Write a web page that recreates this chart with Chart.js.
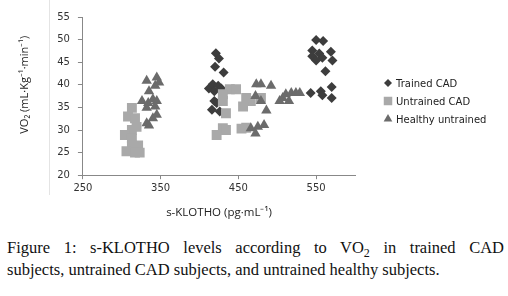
<!DOCTYPE html>
<html>
<head>
<meta charset="utf-8">
<script src="https://cdn.jsdelivr.net/npm/chart.js@4/dist/chart.umd.min.js"></script>
<style>
  body { margin: 0; background: #fff; width: 508px; height: 296px; overflow: hidden; position: relative; }
  #wrap { position: absolute; left: 0; top: 0; width: 508px; height: 228px; }
  #frame { position: absolute; left: 49px; top: 0; width: 0; height: 195px; border-left: 1px solid #e4e4e4; }
  #caption { position: absolute; left: 7px; top: 237px; width: 497px; font-family: "Liberation Serif", serif; font-size: 16.5px; line-height: 22px; color: #111; }
  #caption .l1 { text-align: justify; text-align-last: justify; white-space: nowrap; }
  #caption sub { font-size: 12px; line-height: 0; }
</style>
</head>
<body>
<div id="frame"></div>
<div id="wrap"><canvas id="klothoChart"></canvas></div>
<div id="caption">
  <div class="l1">Figure 1: s-KLOTHO levels according to VO<sub>2</sub> in trained CAD</div>
  <div>subjects, untrained CAD subjects, and untrained healthy subjects.</div>
</div>
<script>
// values
const seriesNames = ['Trained CAD', 'Untrained CAD', 'Healthy untrained'];

const trainedX = [421, 425, 420, 431, 412, 417, 424, 428, 419, 419, 422, 416, 426,
                  550, 559, 545, 554, 569, 545, 558, 571, 550, 562, 543, 556, 558, 570, 570];
const trainedY = [47, 45.8, 44, 42.7, 39.2, 40.1, 39.8, 39.2, 38.6, 36.4, 36, 34.5, 34.1,
                  49.9, 49.7, 47.6, 46.9, 47.3, 46.3, 46, 45.4, 45.4, 43, 38.2, 38.6, 37.7, 39.5, 37.1];

const untrainedX = [313, 308, 317, 319, 313, 304, 313, 313, 321, 306, 317, 323,
                    439, 447, 430, 430, 434, 430, 434, 422,
                    460, 466, 456, 479, 460, 454];
const untrainedY = [34.9, 33, 32.6, 30.7, 30, 28.9, 28.1, 26.6, 26.6, 25.3, 25, 25,
                    39, 39, 37.9, 36.4, 33.7, 30.4, 30, 28.9,
                    37.1, 36.4, 35.2, 37.1, 30.5, 30.3];

const healthyX = [332, 345, 348, 343, 335, 326, 334, 340, 345, 332, 343, 345, 340, 332, 335,
                  473, 479, 492, 472, 479, 486, 466, 475, 483, 472,
                  503, 507, 511, 518, 524, 529, 515];
const healthyY = [40.9, 41.6, 40.5, 39.8, 38.6, 36.4, 36, 36.8, 36.4, 34.9, 35.2, 33.4, 32.6, 31.5, 31,
                  40.1, 40.1, 39.8, 37.5, 36.4, 34.3, 30.4, 30.7, 31.1, 29.2,
                  36.4, 37.1, 37.9, 38.2, 38.2, 38.2, 36.4];

const xTicks = [250, 350, 450, 550];
const yTicks = [20, 25, 30, 35, 40, 45, 50, 55];

function toPoints(xs, ys) {
    return xs.map((x, i) => ({ x: x, y: ys[i] }));
}

// legend drawn on the canvas with the library's point helper
const sideLegend = {
    id: 'sideLegend',
    afterDraw(chart) {
        const ctx = chart.ctx;
        ctx.save();
        ctx.font = '10px "DejaVu Sans"';
        ctx.textBaseline = 'middle';
        chart.data.datasets.forEach((ds, i) => {
            const y = 83 + i * 18;
            ctx.fillStyle = ds.backgroundColor;
            ctx.strokeStyle = ds.backgroundColor;
            ctx.lineWidth = 0;
            Chart.helpers.drawPoint(ctx, { pointStyle: ds.pointStyle, radius: ds.legendRadius, rotation: 0, borderWidth: 0 }, 388, y);
            ctx.fillStyle = '#222';
            ctx.fillText(ds.label, 396, y + 1);
        });
        ctx.restore();
    }
};

const ctx = document.getElementById('klothoChart').getContext('2d');
new Chart(ctx, {
    type: 'scatter',
    data: {
        datasets: [{
            label: seriesNames[0],
            data: toPoints(trainedX, trainedY),
            pointStyle: 'rectRot',
            pointRadius: 5,
            legendRadius: 4,
            backgroundColor: '#3d3d3d',
            borderWidth: 0,
            order: 3
        }, {
            label: seriesNames[1],
            data: toPoints(untrainedX, untrainedY),
            pointStyle: 'rect',
            pointRadius: 7,
            legendRadius: 6,
            backgroundColor: '#a9a9a9',
            borderWidth: 0,
            order: 2
        }, {
            label: seriesNames[2],
            data: toPoints(healthyX, healthyY),
            pointStyle: 'triangle',
            pointRadius: 6,
            legendRadius: 5,
            backgroundColor: '#6b6b6b',
            borderWidth: 0,
            order: 1
        }]
    },
    options: {
        responsive: true,
        maintainAspectRatio: false,
        animation: false,
        layout: { padding: { left: 18, right: 153, top: 17, bottom: 8 } },
        plugins: { legend: { display: false }, tooltip: { enabled: false } },
        scales: {
            x: {
                type: 'linear',
                min: 250,
                max: 600,
                afterBuildTicks: axis => { axis.ticks = xTicks.map(v => ({ value: v })); },
                grid: { drawOnChartArea: false, drawTicks: true, tickLength: 4, color: '#888' },
                border: { color: '#888' },
                ticks: { font: { family: 'DejaVu Sans', size: 10 }, color: '#333', padding: 3 },
                title: { display: true, text: 's-KLOTHO (pg·mL⁻¹)', font: { family: 'Open Sans', size: 11.5 }, color: '#222', padding: { top: 9, bottom: 0 } }
            },
            y: {
                min: 20,
                max: 55,
                afterBuildTicks: axis => { axis.ticks = yTicks.map(v => ({ value: v })); },
                grid: { drawOnChartArea: false, drawTicks: true, tickLength: 5, color: '#888' },
                border: { color: '#888' },
                ticks: { font: { family: 'DejaVu Sans', size: 10 }, color: '#333', padding: 8 },
                title: { display: true, text: '        VO₂ (mL·Kg⁻¹·min⁻¹)', font: { family: 'Open Sans', size: 11 }, color: '#222', padding: { top: 0, bottom: 18 } }
            }
        }
    },
    plugins: [sideLegend]
});
</script>
</body>
</html>
